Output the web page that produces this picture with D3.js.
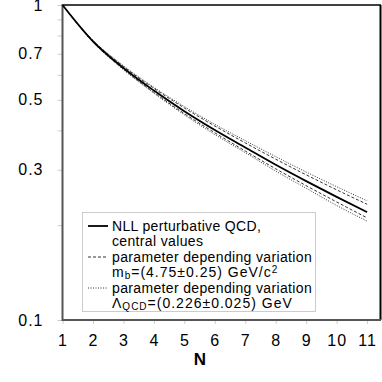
<!DOCTYPE html>
<html>
<head>
<meta charset="utf-8">
<script src="https://cdn.jsdelivr.net/npm/d3@7"></script>
<style>
  body { margin: 0; background: #fff; }
  text { font-family: "Liberation Sans", Arial, sans-serif; }
</style>
</head>
<body>
<svg id="chart" width="382" height="382"></svg>
<script>
var svg = d3.select("#chart");

// data
var nValues = [1, 2, 3, 4, 5, 6, 7, 8, 9, 10, 11];
var central = [1.000, 0.767, 0.631, 0.535, 0.460, 0.401, 0.353, 0.311, 0.276, 0.246, 0.220];
var mbUpper = [1.000, 0.771, 0.638, 0.544, 0.471, 0.413, 0.365, 0.324, 0.289, 0.259, 0.233];
var mbLower = [1.000, 0.764, 0.626, 0.528, 0.452, 0.393, 0.344, 0.302, 0.267, 0.237, 0.211];
var lamUpper = [1.000, 0.773, 0.642, 0.548, 0.476, 0.418, 0.371, 0.330, 0.295, 0.265, 0.239];
var lamLower = [1.000, 0.762, 0.623, 0.525, 0.448, 0.388, 0.340, 0.297, 0.262, 0.231, 0.206];
var yTickLabels = [0.1, 0.3, 0.5, 0.7, 1];
var yMinorTicks = [0.2, 0.4, 0.6, 0.8, 0.9];

var x = d3.scaleLinear().domain([1, 11.44]).range([62.5, 380.5]);
var y = d3.scaleLog().domain([0.1, 1]).range([320, 5]);

// ticks
svg.append("g")
  .attr("transform", "translate(0,320)")
  .call(d3.axisBottom(x).tickValues(nValues).tickSize(4).tickPadding(11).tickFormat(d3.format("d")))
  .call(function(g){
    g.select(".domain").remove();
    g.selectAll("line").attr("stroke", "#ccc");
    g.selectAll("text").attr("font-size", 16).attr("fill", "#000").attr("letter-spacing", 1);
  });

svg.append("g")
  .attr("transform", "translate(62.5,0)")
  .call(d3.axisLeft(y).tickValues(yTickLabels.concat(yMinorTicks)).tickSize(5).tickPadding(14)
    .tickFormat(function(d){ return yTickLabels.indexOf(d) >= 0 ? d3.format("")(d) : ""; }))
  .call(function(g){
    g.select(".domain").remove();
    g.selectAll("line").attr("stroke", "#ccc");
    g.selectAll("text").attr("font-size", 16).attr("fill", "#000").attr("letter-spacing", 1);
  });

// frame
svg.append("line").attr("x1", 62).attr("x2", 381).attr("y1", 5).attr("y2", 5)
  .attr("stroke", "#000").attr("stroke-width", 1.5);
svg.append("line").attr("x1", 380.5).attr("x2", 380.5).attr("y1", 5).attr("y2", 320)
  .attr("stroke", "#000").attr("stroke-width", 2);
svg.append("line").attr("x1", 62.5).attr("x2", 62.5).attr("y1", 4).attr("y2", 321)
  .attr("stroke", "#555").attr("stroke-width", 2);
svg.append("line").attr("x1", 62).attr("x2", 381).attr("y1", 320).attr("y2", 320)
  .attr("stroke", "#555").attr("stroke-width", 2);

// curves
var line = d3.line()
  .x(function(d, i){ return x(nValues[i]); })
  .y(function(d){ return y(d); })
  .curve(d3.curveMonotoneX);

var series = [
  {vals: lamUpper, dash: "1,1.5", w: 1, c: "#333"},
  {vals: lamLower, dash: "1,1.5", w: 1, c: "#333"},
  {vals: mbUpper, dash: "3,2", w: 1, c: "#333"},
  {vals: mbLower, dash: "3,2", w: 1, c: "#333"},
  {vals: central, dash: null, w: 1.8, c: "#000"}
];

svg.append("g").selectAll("path")
  .data(series)
  .enter().append("path")
  .attr("d", function(d){ return line(d.vals); })
  .attr("fill", "none")
  .attr("stroke", function(d){ return d.c; })
  .attr("stroke-width", function(d){ return d.w; })
  .attr("stroke-dasharray", function(d){ return d.dash; });

// legend
var lg = svg.append("g");
lg.append("rect").attr("x", 82.5).attr("y", 212.5).attr("width", 233).attr("height", 99)
  .attr("fill", "#fff").attr("stroke", "#ccc");

var rowY = [231, 246, 262, 277, 293, 308];
var tx = 112;
function row(i){ return lg.append("text").attr("x", tx).attr("y", rowY[i]).attr("font-size", 14).attr("letter-spacing", 0.35); }

lg.append("line").attr("x1", 88).attr("x2", 108).attr("y1", rowY[0] - 5).attr("y2", rowY[0] - 5)
  .attr("stroke", "#000").attr("stroke-width", 1.8);
row(0).text("NLL perturbative QCD,");
row(1).text("central values");
lg.append("line").attr("x1", 88).attr("x2", 108).attr("y1", rowY[2] - 5).attr("y2", rowY[2] - 5)
  .attr("stroke", "#333").attr("stroke-dasharray", "3,2");
row(2).text("parameter depending variation");
var t3 = row(3).attr("letter-spacing", 1);
t3.append("tspan").text("m");
t3.append("tspan").attr("font-size", 10).attr("dy", 2).text("b");
t3.append("tspan").attr("dy", -2).text("=(4.75\u00b10.25) GeV/c");
t3.append("tspan").attr("font-size", 10).attr("dy", -4).text("2");
lg.append("line").attr("x1", 88).attr("x2", 108).attr("y1", rowY[4] - 5).attr("y2", rowY[4] - 5)
  .attr("stroke", "#333").attr("stroke-dasharray", "1,1.5");
row(4).text("parameter depending variation");
var t5 = row(5).attr("letter-spacing", 1);
t5.append("tspan").text("\u039b");
t5.append("tspan").attr("font-size", 10).attr("dy", 2).text("QCD");
t5.append("tspan").attr("dy", -2).text("=(0.226\u00b10.025) GeV");

// axis title
svg.append("text").attr("x", 200).attr("y", 365).attr("text-anchor", "middle")
  .attr("font-size", 17).attr("font-weight", "bold").text("N");
</script>
</body>
</html>
